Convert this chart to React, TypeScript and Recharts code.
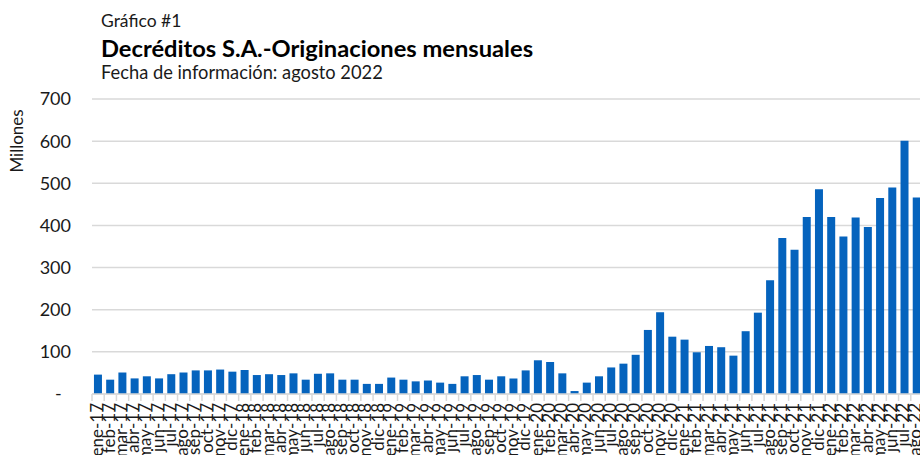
import { BarChart, Bar, XAxis, YAxis, CartesianGrid } from 'recharts';

const categories = [
  'ene-17', 'feb-17', 'mar-17', 'abr-17', 'may-17', 'jun-17', 'jul-17', 'ago-17', 'sep-17', 'oct-17', 'nov-17', 'dic-17',
  'ene-18', 'feb-18', 'mar-18', 'abr-18', 'may-18', 'jun-18', 'jul-18', 'ago-18', 'sep-18', 'oct-18', 'nov-18', 'dic-18',
  'ene-19', 'feb-19', 'mar-19', 'abr-19', 'may-19', 'jun-19', 'jul-19', 'ago-19', 'sep-19', 'oct-19', 'nov-19', 'dic-19',
  'ene-20', 'feb-20', 'mar-20', 'abr-20', 'may-20', 'jun-20', 'jul-20', 'ago-20', 'sep-20', 'oct-20', 'nov-20', 'dic-20',
  'ene-21', 'feb-21', 'mar-21', 'abr-21', 'may-21', 'jun-21', 'jul-21', 'ago-21', 'sep-21', 'oct-21', 'nov-21', 'dic-21',
  'ene-22', 'feb-22', 'mar-22', 'abr-22', 'may-22', 'jun-22', 'jul-22', 'ago-22',
];

// originaciones, millones
const originaciones = [
  46, 34, 51, 37, 42, 37, 47, 51, 56, 56, 58, 53,
  57, 45, 47, 45, 49, 34, 48, 49, 34, 34, 24, 24,
  39, 34, 30, 32, 27, 24, 42, 45, 34, 42, 37, 56,
  80, 76, 49, 7, 27, 42, 63, 72, 93, 152, 194, 136,
  129, 99, 114, 111, 91, 149, 193, 270, 370, 342, 420, 486,
  420, 374, 419, 396, 465, 490, 601, 466,
];

const yTicks = [0, 100, 200, 300, 400, 500, 600, 700];

const data = categories.map((mes, i) => ({ mes, valor: originaciones[i] }));

const CHART_W = 935;
const CHART_H = 520;
const PLOT_LEFT = 92;
const PLOT_RIGHT_MARGIN = 12;
const PLOT_BOTTOM = 394;
const HALF_BAND = (CHART_W - PLOT_LEFT - PLOT_RIGHT_MARGIN) / categories.length / 2;
const TEXT = '#1a1a1a';
const GRID = '#d9d9d9';

const XTick = (props: any) => {
  const { x, payload } = props;
  return (
    <g>
      <line x1={x + HALF_BAND} x2={x + HALF_BAND} y1={PLOT_BOTTOM} y2={PLOT_BOTTOM + 7} stroke={GRID} strokeWidth={1.5} />
      {payload.index === 0 && (
        <line x1={x - HALF_BAND} x2={x - HALF_BAND} y1={PLOT_BOTTOM} y2={PLOT_BOTTOM + 7} stroke={GRID} strokeWidth={1.5} />
      )}
      <text
        transform={`translate(${x + 4.5},${PLOT_BOTTOM + 9}) rotate(-90)`}
        textAnchor='end'
        fontSize={17}
        fill={TEXT}
        fontFamily='Lato'
      >
        {payload.value}
      </text>
    </g>
  );
};

export default function App() {
  return (
    <div
      style={{
        position: 'absolute',
        left: 0,
        top: 0,
        width: 920,
        height: 455,
        overflow: 'hidden',
        background: '#fff',
        fontFamily: 'Lato',
      }}
    >
      <BarChart
        width={CHART_W}
        height={CHART_H}
        data={data}
        margin={{ top: 99, right: PLOT_RIGHT_MARGIN, left: 0, bottom: 0 }}
        barCategoryGap='16%'
      >
        <CartesianGrid vertical={false} stroke={GRID} strokeWidth={1.5} />
        <XAxis
          dataKey='mes'
          interval={0}
          height={CHART_H - PLOT_BOTTOM}
          axisLine={{ stroke: GRID, strokeWidth: 1.5 }}
          tickLine={false}
          tick={<XTick />}
        />
        <YAxis
          width={PLOT_LEFT}
          domain={[0, 700]}
          ticks={yTicks}
          axisLine={false}
          tickLine={false}
          tickSize={0}
          tickMargin={21}
          tick={{ fill: TEXT, fontSize: 18, fontFamily: 'Lato' }}
          tickFormatter={(v: number) => (v === 0 ? '-\u00a0\u00a0' : String(v))}
          label={{
            content: () => (
              <text
                transform='translate(23,141) rotate(-90)'
                textAnchor='middle'
                fontSize={17}
                fill={TEXT}
                fontFamily='Lato'
              >
                Millones
              </text>
            ),
          }}
        />
        <Bar dataKey='valor' fill='#0563bd' isAnimationActive={false} />
      </BarChart>
      <svg
        width={920}
        height={90}
        style={{ position: 'absolute', left: 0, top: 0, pointerEvents: 'none' }}
      >
        <text x={101} y={27} fontSize={17.5} fill={TEXT} fontFamily='Lato'>
          Gráfico #1
        </text>
        <text x={101} y={56.5} fontSize={23.7} fontWeight='bold' fill='#000' fontFamily='Lato'>
          Decréditos S.A.-Originaciones mensuales
        </text>
        <text x={101} y={78.5} fontSize={18.3} fill={TEXT} fontFamily='Lato'>
          Fecha de información: agosto 2022
        </text>
      </svg>
    </div>
  );
}
